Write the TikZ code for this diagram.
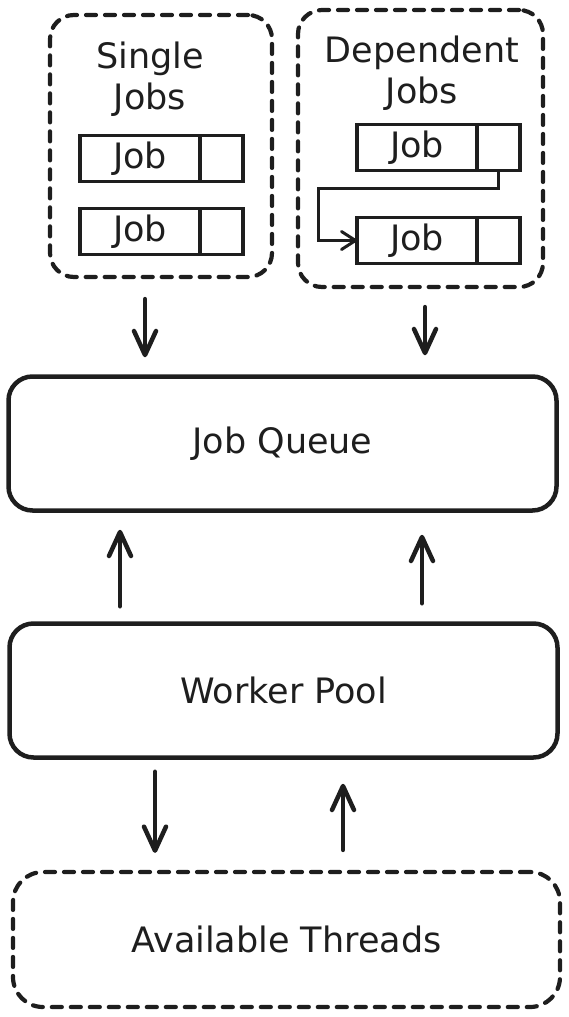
\documentclass[tikz,border=0pt]{standalone}
\usepackage{fontspec}
\setmainfont{DejaVu Sans}
\usepackage{tikz}
\usetikzlibrary{positioning,arrows.meta,calc}
\definecolor{ink}{HTML}{1E1E1E}

\begin{document}
\begin{tikzpicture}[
  x=1pt,
  y=-1pt,
  font=\fontsize{35}{41}\selectfont,
  group/.style={draw=ink, line width=4.2pt, dash pattern=on 10pt off 9pt, line cap=round, rounded corners=24pt},
  stage/.style={draw=ink, line width=4.5pt, rounded corners=24pt, minimum width=548pt, minimum height=134pt},
  job/.style={draw=ink, line width=3.5pt, outer sep=0pt, inner sep=0pt, minimum width=120pt, minimum height=46pt},
  tag/.style={job, minimum width=43pt},
  flow/.style={draw=ink, line width=4.5pt, line cap=round, -{Straight Barb[length=24pt,width=22pt,round]}},
  link/.style={draw=ink, line width=3pt, -{Straight Barb[length=14pt,width=18pt,round]}}
]
\useasboundingbox (0,0) rectangle (569,1017);

\node[group, minimum width=222pt, minimum height=262pt] (singlegrp) at (161,146) {};
\node[align=center, text=ink] (singlettl) at (150,79) {Single\\Jobs};
\node[job, text=ink] (job1) at (140,158.5) {Job};
\node[tag, right=0pt of job1] (tag1) {};
\node[job, text=ink] (job2) at (140,231.5) {Job};
\node[tag, right=0pt of job2] (tag2) {};

\node[group, minimum width=245pt, minimum height=277pt] (depgrp) at (420.5,148.5) {};
\node[align=center, text=ink] (depttl) at (422,73) {Dependent\\Jobs};
\node[job, text=ink] (job3) at (417,147.5) {Job};
\node[tag, right=0pt of job3] (tag3) {};
\node[job, text=ink] (job4) at (417,240.5) {Job};
\node[tag, right=0pt of job4] (tag4) {};
\draw[link] (tag3.south) -- ++(0,18) -| ([xshift=-39pt]job4.west) -- (job4.west);

\node[stage, text=ink] (queue) at (282.5,443.5) {Job Queue};
\node[stage, text=ink] (pool) at (283.5,690.5) {Worker Pool};
\node[group, text=ink, minimum width=547pt, minimum height=135pt, rounded corners=30pt] (threads) at (286.5,939.5) {Available Threads};

\draw[flow, shorten <=20pt, shorten >=17pt] ([xshift=-16pt]singlegrp.south) -- ([xshift=-16pt]singlegrp.south |- queue.north);
\draw[flow, shorten <=18pt, shorten >=19pt] ([xshift=4.5pt]depgrp.south) -- ([xshift=4.5pt]depgrp.south |- queue.north);
\draw[flow, shorten <=15pt, shorten >=17pt] ([xshift=-163.5pt]pool.north) -- ([xshift=-163.5pt]pool.north |- queue.south);
\draw[flow, shorten <=18pt, shorten >=22pt] ([xshift=138.5pt]pool.north) -- ([xshift=138.5pt]pool.north |- queue.south);
\draw[flow, shorten <=12pt, shorten >=17pt] ([xshift=-128.5pt]pool.south) -- ([xshift=-128.5pt]pool.south |- threads.north);
\draw[flow, shorten <=20pt, shorten >=24pt] ([xshift=56.5pt]threads.north) -- ([xshift=56.5pt]threads.north |- pool.south);
\end{tikzpicture}
\end{document}
